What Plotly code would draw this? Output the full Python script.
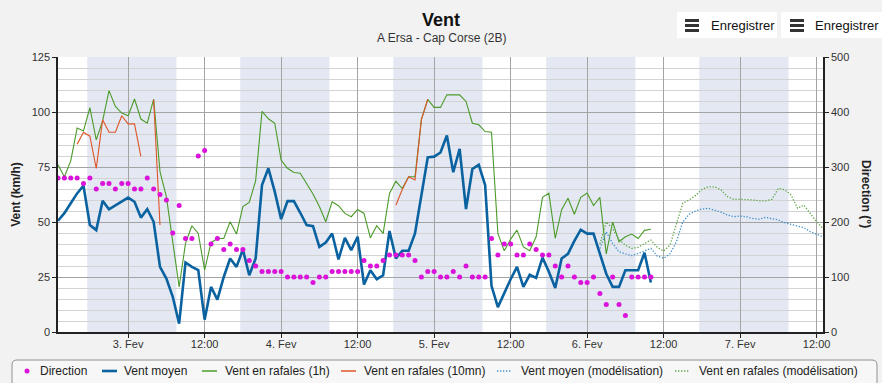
import pandas as pd
import plotly.graph_objects as go

# ---------------- data ----------------
obs_start = "2015-02-02 13:00"      # hourly observations
model_start = "2015-02-06 02:00"    # hourly model output

vent_moyen = [50.6, 54, 58.5, 63, 66.5, 48.6, 46.3, 59.6, 55.8, 57.5, 59.3, 61.1, 59.2, 52, 55.8, 50.1,
              29.6, 24.3, 16, 3.8, 31.6, 29.6, 28.1, 5.6, 20.5, 14.7, 25, 33.4, 29.6, 37.5, 25.8, 33.4,
              66.8, 74.4, 63.8, 51.3, 59.5, 59.5, 54.2, 48.6, 48.1, 38.7, 40.7, 44.8, 33, 42.8, 37.2, 43.3,
              21.6, 28.1, 24, 25.8, 45.9, 33.4, 36.9, 36.9, 44.8, 61.5, 79.4, 79.7, 81.6, 89.3, 72.6, 83.2,
              55.9, 74.1, 76, 66.8, 21, 11.3, 18, 24, 29.6, 20.5, 26, 24.6, 33.8, 27.4, 20, 33.4,
              35.5, 41.4, 46.5, 44.7, 44.7, 36, 26.5, 20.5, 20.5, 28.1, 28.1, 28.1, 36, 22.5]

rafales_1h = [76, 70.6, 77.8, 92.7, 91.4, 102, 87.3, 96, 109.7, 102.5, 99.5, 98.3, 105.9, 96.8, 94.9, 105.9,
              72.9, 61.5, 41, 20.5, 40.3, 48.3, 44.8, 28.1, 40.6, 42.5, 42.5, 50.1, 44.5, 57, 58.9, 68.7,
              100.3, 96.9, 94.9, 78.2, 74.4, 72.5, 72.2, 67.6, 62.7, 57, 50.1, 59.2, 57.4, 53.9, 52.4, 55.7,
              53.9, 42.8, 48.3, 44.8, 63, 68.5, 65.2, 70.6, 70.6, 96.5, 105.7, 102.1, 102.1, 107.8, 107.8, 107.8,
              104.8, 94.9, 94.2, 91.1, 90.8, 44.8, 36.9, 42.2, 46.3, 38.7, 36.9, 43.3, 61.2, 63.1, 42.6, 55.6,
              60.8, 53.5, 61.2, 63.2, 57.5, 61.2, 35.5, 50, 41, 43.3, 44.5, 42.5, 46.2, 46.7]

rafales_10mn = [None, None, None, 85.4, 90.8, 89, 74.4, 96.5, 90.8, 90.8, 98.3, 94.6, 94.6, 79.8, None, 105.7,
                48.6, None, None, None, None, None, None, None, None, None, None, None, None, None, None, None,
                None, None, None, None, None, None, None, None, None, None, None, None, None, None, None, None,
                None, None, None, None, None, 57.6, 64.8, 70.6, 69.1, 96.5, 105.8]

direction = [280, 280, 280, 280, 270, 280, 260, 270, 270, 260, 270, 270, 260, 260, 280, 260,
             250, 240, 180, 230, 170, 170, 320, 330, 160, 170, 150, 160, 150, 150, 130, 120,
             110, 110, 110, 110, 100, 100, 100, 100, 90, 100, 100, 110, 110, 110, 110, 110,
             130, 120, 120, 130, 140, 140, 140, 140, 130, 100, 110, 110, 100, 100, 110, 100,
             120, 100, 100, 100, 170, 140, 160, 160, 140, 140, 160, 150, 140, 140, 120, 100,
             120, 100, 90, 90, 100, 70, 50, 100, 50, 30, 100, 100, 100, 100]

model_moyen = [38, 45.5, 40.3, 36.5, 35.5, 34.7, 35.7, 36.9, 38, 34.5, 33.5, 35.5, 41, 50, 53.5, 55,
               55.9, 56.2, 55.4, 54.5, 53.2, 52.4, 52.7, 52.4, 51.6, 51.3, 52.1, 51.6, 50.9, 49.7, 48.9, 48.3,
               47.4, 45.6, 44.5, 43.3]

model_rafales = [40, 50, 47, 42, 39.5, 38, 38.5, 40, 41.8, 38.5, 36.8, 39.5, 49, 58.5, 60, 62,
                 64.8, 66, 66, 64.6, 61.5, 60.3, 60.3, 60.3, 60, 59.6, 59.6, 60.3, 65.3, 64.6, 62.3, 56.2,
                 57.7, 53.9, 50.1, 47.1]

night_starts = ["2015-02-02 17:35", "2015-02-03 17:35", "2015-02-04 17:35", "2015-02-05 17:35", "2015-02-06 17:35"]
night_ends = ["2015-02-03 07:35", "2015-02-04 07:35", "2015-02-05 07:35", "2015-02-06 07:35", "2015-02-07 07:35"]

tick_vals = ["2015-02-03 00:00", "2015-02-03 12:00", "2015-02-04 00:00", "2015-02-04 12:00",
             "2015-02-05 00:00", "2015-02-05 12:00", "2015-02-06 00:00", "2015-02-06 12:00",
             "2015-02-07 00:00", "2015-02-07 12:00"]
tick_text = ["3. Fev", "12:00", "4. Fev", "12:00", "5. Fev", "12:00", "6. Fev", "12:00", "7. Fev", "12:00"]
x_range = ["2015-02-02 13:00", "2015-02-07 13:00"]

series_names = ["Direction", "Vent moyen", "Vent en rafales (1h)", "Vent en rafales (10mn)",
                "Vent moyen (modélisation)", "Vent en rafales (modélisation)"]

# ---------------- styles ----------------
C_DIR = "#DA12DA"
C_MOY = "#0A62A0"
C_RAF = "#4C9B2A"
C_R10 = "#E0552A"
C_MMOY = "#3E8FCB"
C_MRAF = "#5FA545"
DOT = "1.3px,1.7px"
FONT = "Liberation Sans, Arial, sans-serif"

obs_t = pd.date_range(obs_start, periods=len(vent_moyen), freq="h")
r10_t = pd.date_range(obs_start, periods=len(rafales_10mn), freq="h")
mod_t = pd.date_range(model_start, periods=len(model_moyen), freq="h")

fig = go.Figure()
fig.add_trace(go.Scatter(x=obs_t, y=direction, name=series_names[0], mode="markers", yaxis="y2",
                         marker=dict(color=C_DIR, size=5), showlegend=False))
fig.add_trace(go.Scatter(x=obs_t, y=vent_moyen, name=series_names[1], mode="lines",
                         line=dict(color=C_MOY, width=2.6), showlegend=False))
fig.add_trace(go.Scatter(x=obs_t, y=rafales_1h, name=series_names[2], mode="lines",
                         line=dict(color=C_RAF, width=1.1), showlegend=False))
fig.add_trace(go.Scatter(x=r10_t, y=rafales_10mn, name=series_names[3], mode="lines",
                         line=dict(color=C_R10, width=1.1), connectgaps=False, showlegend=False))
fig.add_trace(go.Scatter(x=mod_t, y=model_moyen, name=series_names[4], mode="lines",
                         line=dict(color=C_MMOY, width=1.3, dash=DOT), showlegend=False))
fig.add_trace(go.Scatter(x=mod_t, y=model_rafales, name=series_names[5], mode="lines",
                         line=dict(color=C_MRAF, width=1.3, dash=DOT), showlegend=False))

W, H = 882, 383
L, R, T, B = 58, 59, 57, 51
PW, PH = W - L - R, H - T - B


def fx(p):
    return (p - L) / PW


def fy(p):
    return (H - B - p) / PH


shapes = []
for s, e in zip(night_starts, night_ends):
    shapes.append(dict(type="rect", xref="x", yref="paper", x0=s, x1=e, y0=0, y1=1,
                       fillcolor="#E3E8F2", line=dict(width=0), layer="below"))

annotations = []
# subtitle
annotations.append(dict(text="A Ersa - Cap Corse (2B)", xref="paper", yref="paper", x=fx(441), y=fy(38),
                        xanchor="center", yanchor="middle",
                        showarrow=False, font=dict(size=12, color="#333", family=FONT)))
# right axis title
annotations.append(dict(text="<b>Direction (°)</b>", xref="paper", yref="paper", x=fx(866), y=fy(194),
                        xanchor="center", yanchor="middle",
                        showarrow=False, textangle=90, font=dict(size=12, color="#222", family=FONT)))

# export buttons
for bx0, bx1, ix, tx in [(677, 777, 685, 709), (781, 882, 790, 813)]:
    shapes.append(dict(type="rect", xref="paper", yref="paper", x0=fx(bx0), x1=fx(bx1), y0=fy(38), y1=fy(12),
                       fillcolor="white", line=dict(width=0), layer="above"))
    for yy in (20.5, 25.5, 30.5):
        shapes.append(dict(type="line", xref="paper", yref="paper", x0=fx(ix), x1=fx(ix + 14), y0=fy(yy), y1=fy(yy),
                           line=dict(color="#333", width=3), layer="above"))
    annotations.append(dict(text="Enregistrer", xref="paper", yref="paper", x=fx(tx), y=fy(25.5),
                            xanchor="left", yanchor="middle",
                            showarrow=False, font=dict(size=13, color="#111", family=FONT)))

# legend box (rounded) drawn by hand
lx0, lx1, ly0, ly1, rr = 12, 877, 360, 392, 5
path = (f"M {fx(lx0 + rr)},{fy(ly0)} L {fx(lx1 - rr)},{fy(ly0)} Q {fx(lx1)},{fy(ly0)} {fx(lx1)},{fy(ly0 + rr)} "
        f"L {fx(lx1)},{fy(ly1)} L {fx(lx0)},{fy(ly1)} L {fx(lx0)},{fy(ly0 + rr)} "
        f"Q {fx(lx0)},{fy(ly0)} {fx(lx0 + rr)},{fy(ly0)} Z")
shapes.append(dict(type="path", xref="paper", yref="paper", path=path, fillcolor="#F7F7F7",
                   line=dict(color="#909090", width=1), layer="above"))
LY = 371
shapes.append(dict(type="circle", xref="paper", yref="paper", x0=fx(24.5), x1=fx(29.5), y0=fy(LY + 2.5),
                   y1=fy(LY - 2.5), fillcolor=C_DIR, line=dict(width=0), layer="above"))
legend_items = [
    (None, None, 38, series_names[0], None, None),
    (102, 117, 122, series_names[1], C_MOY, ("solid", 2.6)),
    (202, 217, 223, series_names[2], C_RAF, ("solid", 1.5)),
    (341, 356, 362, series_names[3], C_R10, ("solid", 1.5)),
    (497, 512, 519, series_names[4], C_MMOY, (DOT, 1.3)),
    (675, 690, 697, series_names[5], C_MRAF, (DOT, 1.3)),
]
for sx0, sx1, tx, name, col, st in legend_items:
    if sx0 is not None:
        shapes.append(dict(type="line", xref="paper", yref="paper", x0=fx(sx0), x1=fx(sx1), y0=fy(LY), y1=fy(LY),
                           line=dict(color=col, width=st[1], dash=st[0]), layer="above"))
    annotations.append(dict(text=name, xref="paper", yref="paper", x=fx(tx), y=fy(LY),
                            xanchor="left", yanchor="middle",
                            showarrow=False, font=dict(size=12, color="#222", family=FONT)))

fig.update_layout(
    width=W, height=H,
    margin=dict(l=L, r=R, t=T, b=B, autoexpand=False),
    paper_bgcolor="#F2F2F2",
    plot_bgcolor="white",
    font=dict(family=FONT, size=11, color="#333"),
    title=dict(text="<b>Vent</b>", x=0.5, xref="container", xanchor="center",
               y=1 - 20 / H, yref="container", yanchor="middle",
               font=dict(size=18, color="#111", family=FONT)),
    showlegend=False,
    shapes=shapes,
    annotations=annotations,
    xaxis=dict(type="date", range=x_range, tickvals=tick_vals, ticktext=tick_text,
               showgrid=True, gridcolor="#A4A4A4", gridwidth=1, zeroline=False,
               showline=True, linecolor="#222", linewidth=1.5,
               ticks="outside", ticklen=4, tickcolor="#222", ticklabelstandoff=-3,
               tickfont=dict(size=11, color="#333")),
    yaxis=dict(range=[0, 125], tick0=0, dtick=25, showgrid=True, gridcolor="#A4A4A4", gridwidth=1,
               minor=dict(dtick=5, showgrid=True, gridcolor="#D3D3D3", gridwidth=1),
               zeroline=False, showline=True, linecolor="#222", linewidth=1.5,
               ticks="outside", ticklen=4, tickcolor="#222",
               tickfont=dict(size=11, color="#333"),
               title=dict(text="<b>Vent (km/h)</b>", standoff=8, font=dict(size=12, color="#222"))),
    yaxis2=dict(range=[0, 500], tick0=0, dtick=100, overlaying="y", side="right",
                showgrid=False, zeroline=False, showline=True, linecolor="#222", linewidth=1.5,
                ticks="outside", ticklen=4, tickcolor="#222",
                tickfont=dict(size=11, color="#333")),
)

fig.write_html("out.html", config={"displayModeBar": False},
               post_script="document.body.style.margin='0px';document.body.style.overflow='hidden';")
